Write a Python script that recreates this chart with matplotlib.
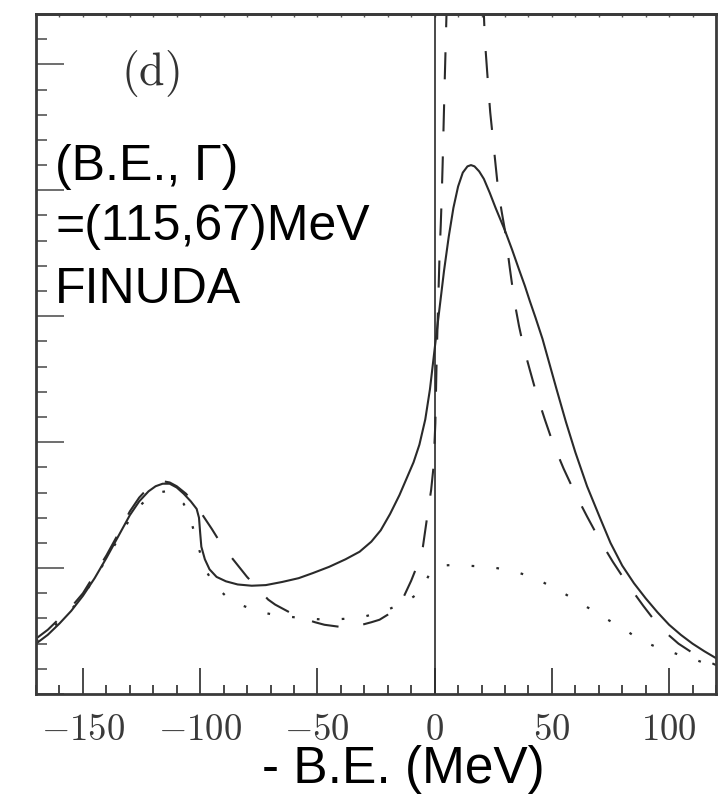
import matplotlib
matplotlib.use('Agg')
import matplotlib.pyplot as plt
from matplotlib.ticker import MultipleLocator

# spectrum curves, x = -B.E. (MeV), y = arbitrary units
solid_x = [-170, -165, -160, -155, -150, -145, -140, -135, -130, -126, -122,
           -119, -116, -113, -110, -107, -104, -101.5, -100.5, -100, -99.5,
           -98, -96, -93, -89, -84, -78, -72, -65, -58, -52, -45, -38, -32,
           -27, -23, -19, -15, -12, -9, -6.5, -4, -2, 0, 2, 4, 6, 8, 10, 12,
           14, 15.5, 17, 19, 21, 23.5, 26, 28, 30, 33, 36, 38.5, 40.6, 43, 46,
           49, 52, 56, 60, 65, 70.5, 75, 80, 85, 90, 95, 100, 105, 110, 115,
           120]
solid_y = [0.40, 0.47, 0.56, 0.66, 0.78, 0.92, 1.08, 1.25, 1.42, 1.53, 1.61,
           1.65, 1.67, 1.67, 1.64, 1.59, 1.53, 1.47, 1.40, 1.28, 1.17,
           1.07, 0.99, 0.93, 0.895, 0.87, 0.86, 0.865, 0.89, 0.92, 0.96, 1.01,
           1.07, 1.13, 1.21, 1.30, 1.43, 1.58, 1.71, 1.84, 1.98, 2.18, 2.42,
           2.74, 3.05, 3.36, 3.63, 3.86, 4.03, 4.14, 4.19, 4.20, 4.19, 4.15,
           4.09, 3.98, 3.86, 3.77, 3.68, 3.53, 3.37, 3.24, 3.12, 2.99, 2.82,
           2.62, 2.42, 2.16, 1.92, 1.65, 1.40, 1.20, 1.02, 0.88, 0.76, 0.65,
           0.55, 0.47, 0.40, 0.34, 0.285]

dashed_x = [-170, -165, -160, -155, -150, -145, -140, -135, -130, -126, -122,
            -119, -116, -113, -110, -106, -103, -100, -97.5, -95, -92, -89,
            -86, -83, -80, -77, -74, -71, -68, -64, -60, -56, -51, -47, -43,
            -39, -35, -31, -27, -23.5, -20, -16, -13, -10, -7, -5, -3, -1.5,
            -0.5, 0.3, 0.9, 1.5, 2.1, 2.6, 3.0, 3.4, 3.8, 4.2, 4.7, 5.2, 5.8,
            20, 20.8, 21.4, 22.6, 23.7, 24.8, 26, 27, 28.5, 30, 32, 34, 36, 38,
            40.5, 43.5, 47, 50.5, 55, 60, 65, 70.5, 76, 82, 89, 96, 104, 113,
            120]
dashed_y = [0.44, 0.51, 0.60, 0.69, 0.80, 0.95, 1.10, 1.27, 1.45, 1.56, 1.64,
            1.68, 1.69, 1.68, 1.65, 1.59, 1.52, 1.45, 1.38, 1.31, 1.22, 1.14,
            1.07, 1.00, 0.93, 0.87, 0.81, 0.75, 0.71, 0.67, 0.63, 0.60, 0.57,
            0.55, 0.54, 0.53, 0.535, 0.55, 0.57, 0.59, 0.63, 0.69, 0.78, 0.90,
            1.04, 1.17, 1.43, 1.62, 1.80, 2.15, 2.70, 3.10, 3.49, 3.72, 3.94,
            4.20, 4.50, 4.80, 5.15, 5.50, 5.90,
            5.90, 5.50, 5.20, 4.89, 4.62, 4.42, 4.20, 4.02, 3.84, 3.68, 3.39,
            3.12, 2.92, 2.75, 2.58, 2.38, 2.18, 1.99, 1.79, 1.59, 1.41, 1.22,
            1.05, 0.88, 0.70, 0.53, 0.40, 0.29, 0.23]

dotted_x = [-170, -165, -160, -155, -150, -145, -140, -135, -130, -126, -122,
            -118, -114.5, -111, -107, -104, -102, -100, -97.5, -95, -92, -88,
            -83, -78, -74, -70, -65, -60, -55, -45.7, -35.5, -30, -25, -20,
            -15, -10, -7, -4.5, -2, 0.5, 3, 8, 13, 18, 23.5, 28, 33, 38, 43,
            47, 51, 56, 60.5, 65, 69, 73, 77.5, 82, 86, 90, 95, 100, 104.5,
            110, 114.5, 120]
dotted_y = [0.42, 0.49, 0.58, 0.67, 0.78, 0.92, 1.07, 1.23, 1.39, 1.49, 1.56,
            1.60, 1.61, 1.58, 1.51, 1.38, 1.25, 1.12, 0.98, 0.90, 0.83, 0.76,
            0.71, 0.675, 0.65, 0.635, 0.62, 0.61, 0.60, 0.59, 0.60, 0.615,
            0.64, 0.67, 0.71, 0.76, 0.80, 0.87, 0.96, 1.00, 1.02, 1.025, 1.02,
            1.015, 1.01, 0.995, 0.98, 0.95, 0.92, 0.88, 0.84, 0.79, 0.74,
            0.69, 0.65, 0.60, 0.55, 0.50, 0.45, 0.41, 0.37, 0.34, 0.31, 0.28,
            0.25, 0.22]

x_ticks = [-150, -100, -50, 0, 50, 100]
note_lines = ['(B.E., \u0393)', '=(115,67)MeV', 'FINUDA']

plt.rcParams['mathtext.fontset'] = 'cm'

ink = '#2a2a2a'
fig = plt.figure(figsize=(7.25, 7.94), dpi=100)
ax = fig.add_axes([0.0497, 0.1259, 0.9379, 0.8565])

ax.plot(solid_x, solid_y, color=ink, lw=1.5)
ax.plot(dashed_x, dashed_y, color=ink, lw=1.5, linestyle=(0, (13, 12)))
ax.plot(dotted_x, dotted_y, color=ink, lw=1.6, linestyle=(0, (1.2, 10)))
ax.axvline(0, color=ink, lw=1.2)

ax.set_xlim(-170, 120)
ax.set_ylim(0, 5.4)

ax.set_xticks(x_ticks, labels=[r'$%d$' % t for t in x_ticks])
ax.xaxis.set_minor_locator(MultipleLocator(10))
ax.yaxis.set_major_locator(MultipleLocator(1))
ax.yaxis.set_minor_locator(MultipleLocator(0.2))
ax.tick_params(axis='x', which='major', direction='in', length=19, width=1.2,
               pad=12, labelsize=26.5, labelcolor='#3a3a3a', color=ink)
ax.tick_params(axis='x', which='minor', direction='in', length=6.5, width=1.2,
               color=ink)
ax.tick_params(axis='y', which='major', direction='in', length=20, width=1.2,
               labelleft=False, color='#555555')
ax.tick_params(axis='y', which='minor', direction='in', length=8, width=1.2,
               color='#555555')
for side in ['left', 'right', 'top', 'bottom']:
    ax.spines[side].set_linewidth(2.0)
    ax.spines[side].set_color('#3a3a3a')

# short ticks along the top edge
top = ax.secondary_xaxis('top')
top.set_xticks(range(-170, 121, 10))
top.tick_params(direction='in', length=2.5, width=1.0, color='#555555',
                labeltop=False)
top.spines['top'].set_linewidth(2.0)
top.spines['top'].set_color('#3a3a3a')

ax.text(0.168, 0.913, r'$\mathrm{(d)}$', transform=ax.transAxes, fontsize=33,
        color='#333333', ha='center', va='center')

baselines = [0.756, 0.668, 0.575]
for line, yb in zip(note_lines, baselines):
    ax.text(0.028, yb, line, transform=ax.transAxes, fontsize=36,
            family='Liberation Sans', va='baseline', ha='left')

ax.set_xlabel('- B.E. (MeV)', fontsize=37, family='Liberation Sans',
              va='baseline')
ax.xaxis.set_label_coords(0.54, -0.131)

fig.savefig('out.png', dpi=100)
